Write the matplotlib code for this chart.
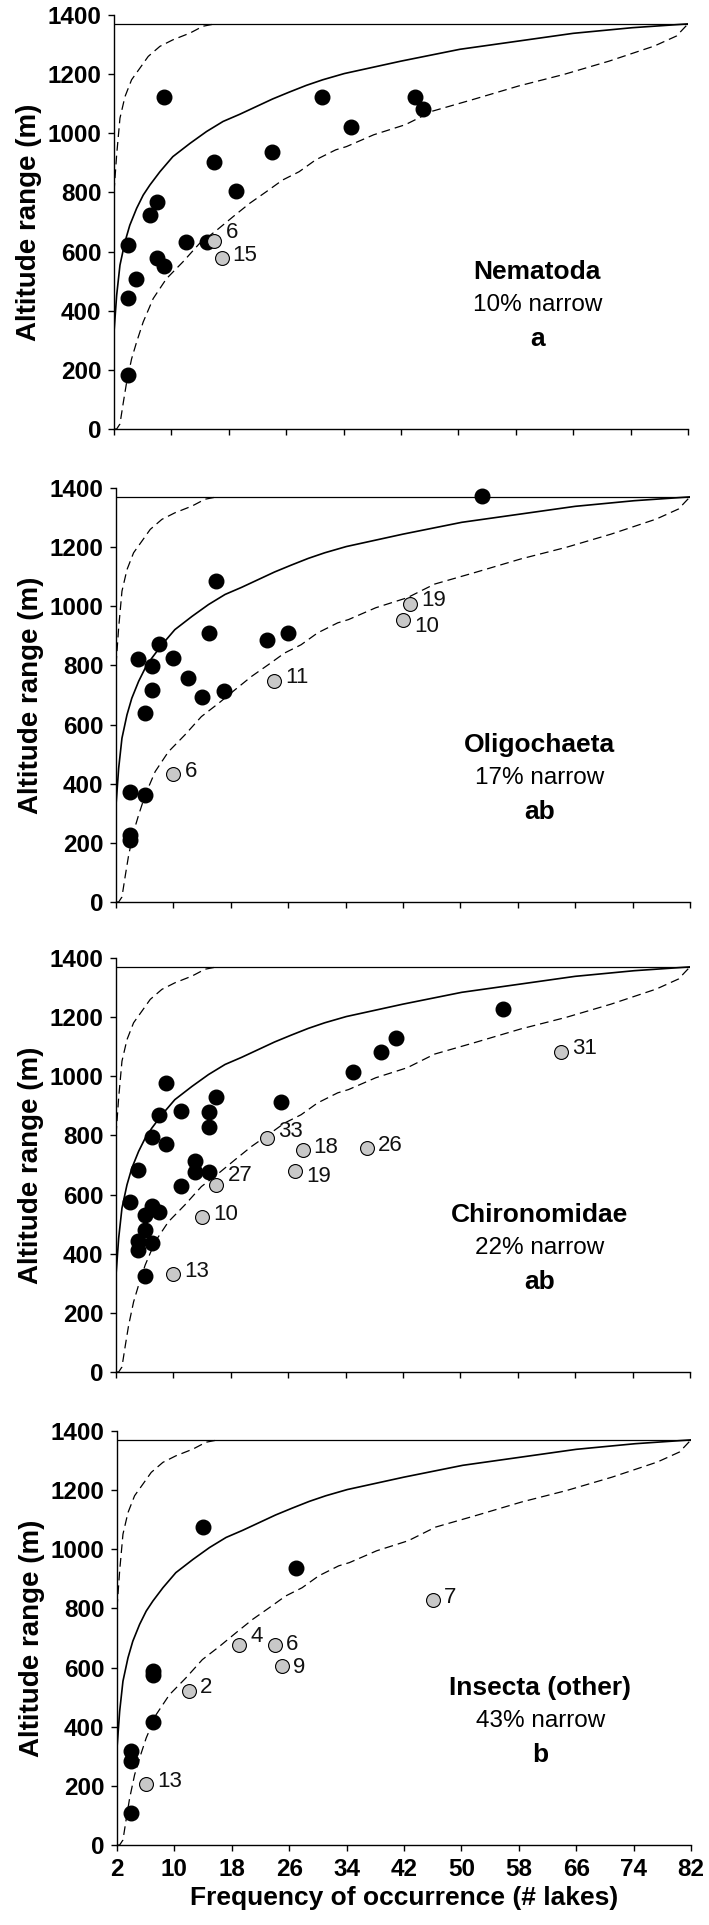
import matplotlib
matplotlib.use('Agg')
import matplotlib.pyplot as plt

plt.rcParams['font.family'] = ['Liberation Sans', 'DejaVu Sans']

# curvas do modelo nulo (iguais nos quatro painéis)
mean_x = [2, 2.37, 2.83, 3.53, 4.2, 5.15, 6.07, 7.0, 8.4, 10.2, 12.6, 14.9, 17.2, 19.5, 21.8,
          24.1, 26.4, 28.8, 31.1, 34.1, 42, 50.2, 58.4, 66, 74.2, 82]
mean_y = [328, 452, 554, 633, 689, 746, 791, 825, 870, 921, 966, 1006, 1040, 1064, 1090,
          1116, 1139, 1162, 1181, 1202, 1244, 1284, 1312, 1338, 1357, 1370]
low_x = [2, 2.37, 2.83, 3.3, 3.76, 4.45, 5.15, 6.07, 7.46, 9.3, 11.6, 13.9, 16.3, 18.6, 20.9,
         23.2, 25.5, 27.8, 30.1, 32.9, 34.4, 38.2, 42.6, 46.4, 52, 58.4, 64.7, 71, 77.3, 80.4, 82]
low_y = [0, 0, 17, 90, 158, 237, 294, 362, 441, 508, 565, 627, 672, 718, 763,
         802, 842, 870, 910, 944, 955, 995, 1029, 1075, 1114, 1160, 1199, 1244, 1295, 1329, 1370]
up_x = [2, 2.37, 2.83, 3.53, 4.45, 5.6, 6.77, 8.4, 10.2, 12.6, 14.4, 16.3]
up_y = [802, 927, 1051, 1124, 1181, 1220, 1260, 1294, 1316, 1339, 1362, 1371]
max_range = 1371

# Nematoda
nem_x = [9, 31, 44, 45, 35, 24, 16, 19, 8, 7, 4, 12, 15, 8, 9, 5, 4, 4]
nem_y = [1123, 1123, 1123, 1083, 1021, 937, 903, 805, 767, 722, 623, 632, 632, 578, 551, 508, 444, 181]
nem_gx = [16, 17]
nem_gy = [635, 579]
nem_lab = ['6', '15']

# Oligochaeta
oli_x = [53, 16, 15, 8, 5, 10, 7, 12, 23, 26, 7, 14, 17, 6, 4, 6, 4, 4]
oli_y = [1372, 1084, 911, 874, 822, 826, 797, 758, 885, 911, 716, 692, 713, 639, 373, 362, 225, 210]
oli_gx = [43, 42, 24, 10]
oli_gy = [1007, 952, 749, 432]
oli_lab = ['19', '10', '11', '6']

# Chironomidae
chi_x = [56, 41, 39, 35, 25, 9, 16, 11, 8, 15, 15, 7, 9, 5, 13,
         13, 15, 11, 4, 7, 8, 6, 6, 5, 7, 5, 6]
chi_y = [1228, 1129, 1081, 1016, 914, 976, 931, 883, 869, 878, 827, 793, 771, 683, 714,
         675, 675, 630, 574, 560, 542, 530, 481, 444, 437, 411, 324]
chi_gx = [23, 28, 37, 27, 16, 14, 10, 64]
chi_gy = [790, 751, 756, 679, 632, 523, 330, 1083]
chi_lab = ['33', '18', '26', '19', '27', '10', '13', '31']

# Insecta (other)
ins_x = [14, 27, 7, 7, 7, 4, 4, 4]
ins_y = [1077, 938, 590, 576, 415, 319, 285, 107]
ins_gx = [46, 19, 24, 25, 12, 6]
ins_gy = [828, 678, 678, 605, 522, 206]
ins_lab = ['7', '4', '6', '9', '2', '13']

names = ['Nematoda', 'Oligochaeta', 'Chironomidae', 'Insecta (other)']
pct = ['10% narrow', '17% narrow', '22% narrow', '43% narrow']
letters = ['a', 'ab', 'ab', 'b']

panels = [
    (nem_x, nem_y, nem_gx, nem_gy, nem_lab),
    (oli_x, oli_y, oli_gx, oli_gy, oli_lab),
    (chi_x, chi_y, chi_gx, chi_gy, chi_lab),
    (ins_x, ins_y, ins_gx, ins_gy, ins_lab),
]

# deslocamento de alguns rótulos (pontos)
offsets = {
    (0, '6'): (8, 6), (2, '27'): (8, 7), (2, '33'): (8, 5), (3, '4'): (8, 6),
    (1, '10'): (8, -4), (2, '19'): (8, -4), (1, '19'): (8, 3), (3, '9'): (8, -1),
    (3, '6'): (8, 0),
}

fig = plt.figure(figsize=(7.09, 19.25), dpi=100)
bottoms = [1 - 429 / 1925, 1 - 902 / 1925, 1 - 1372 / 1925, 1 - 1845 / 1925]
lefts = [114 / 709, 116 / 709, 116 / 709, 117 / 709]
h = 414 / 1925
w = 574 / 709

for i, (bx, by, gx, gy, lab) in enumerate(panels):
    ax = fig.add_axes([lefts[i], bottoms[i], w, h])
    ax.plot([2, 82], [max_range, max_range], color='black', lw=0.9, zorder=1)
    ax.plot(mean_x, mean_y, color='black', lw=1.2, zorder=1)
    ax.plot(low_x, low_y, color='black', lw=0.9, linestyle=(0, (7, 4)), zorder=1)
    ax.plot(up_x, up_y, color='black', lw=0.9, linestyle=(0, (7, 4)), zorder=1)
    ax.scatter(bx, by, s=110, color='black', zorder=3)
    ax.scatter(gx, gy, s=100, facecolor='#c8c8c8', edgecolor='black', linewidth=0.8, zorder=3)
    for x, y, t in zip(gx, gy, lab):
        off = offsets.get((i, t), (8, 2))
        ax.annotate(t, (x, y), xytext=off, textcoords='offset points',
                    ha='left', va='center', fontsize=16, color='#111111')

    ax.text(61, 530, names[i], ha='center', va='center', fontsize=19, fontweight='bold')
    ax.text(61, 420, pct[i], ha='center', va='center', fontsize=17.5)
    ax.text(61, 305, letters[i], ha='center', va='center', fontsize=19, fontweight='bold')

    ax.set_xlim(2, 82)
    ax.set_ylim(0, 1400)
    ax.set_xticks(range(2, 83, 8))
    ax.set_yticks(range(0, 1401, 200))
    for s in ['top', 'right']:
        ax.spines[s].set_visible(False)
    for s in ['left', 'bottom']:
        ax.spines[s].set_linewidth(1.0)
    ax.tick_params(direction='out', length=4, width=1, labelsize=17.5, pad=5)
    for t in ax.get_yticklabels() + ax.get_xticklabels():
        t.set_fontweight('bold')
    ax.set_ylabel('Altitude range (m)', fontsize=20, fontweight='bold', labelpad=4)
    if i < 3:
        ax.set_xticklabels([])
    else:
        ax.set_xlabel('Frequency of occurrence (# lakes)', fontsize=19, fontweight='bold', labelpad=4)

fig.savefig('out.png', dpi=100)
